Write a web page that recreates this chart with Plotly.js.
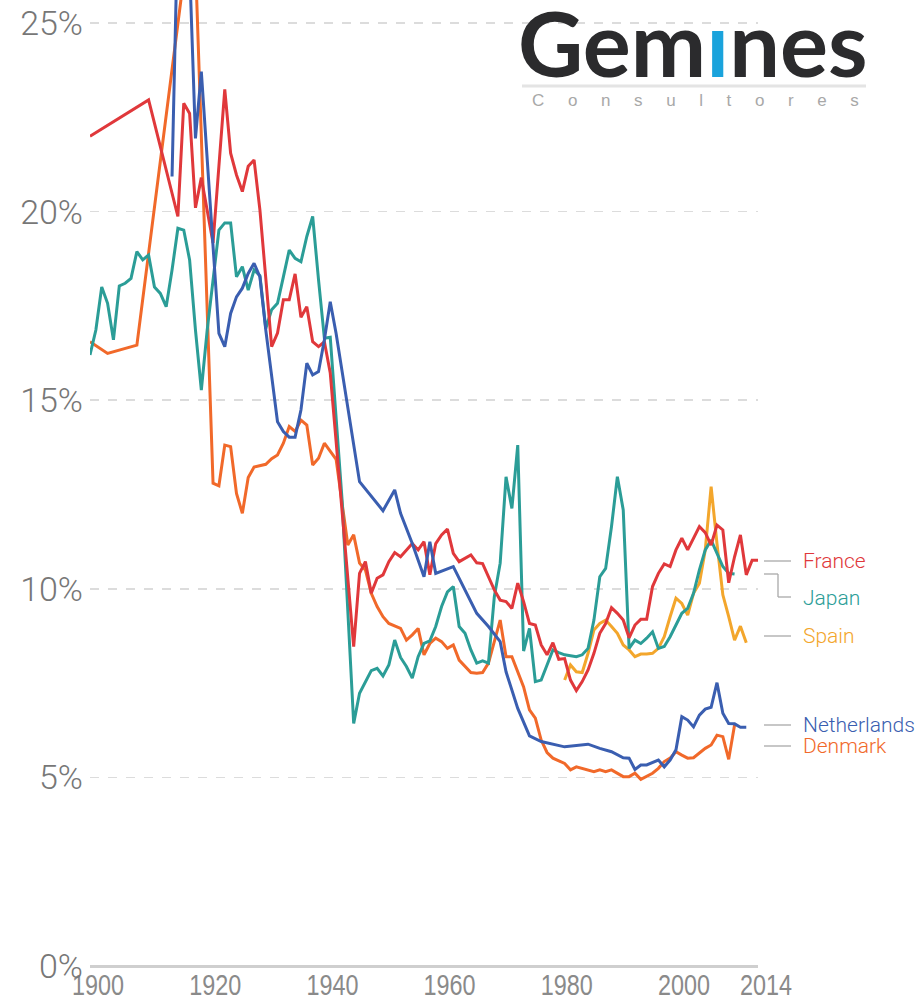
<!DOCTYPE html>
<html><head><meta charset="utf-8">
<script src="https://cdn.plot.ly/plotly-3.0.1.min.js"></script>
<style>html,body{margin:0;padding:0;background:#fff}</style>
</head><body><div id="chart" style="width:924px;height:1003px"></div>
<script>
// ---- data (share, %) ----
const franceYears = [1900,1910,1915,1916,1917,1918,1919,1921,1923,1924,1925,1926,1927,1928,1929,1931,1932,1933,1934,1935,1936,1937,1938,1939,1940,1941,1945,1946,1947,1948,1949,1950,1951,1952,1953,1955,1956,1957,1958,1959,1960,1961,1962,1963,1965,1966,1967,1968,1969,1970,1971,1972,1973,1974,1975,1976,1977,1978,1979,1980,1981,1982,1983,1984,1985,1986,1987,1988,1989,1990,1991,1992,1993,1994,1995,1996,1997,1998,1999,2000,2001,2002,2003,2004,2005,2006,2007,2008,2009,2010,2011,2012,2013,2014];
const franceValues = [22.0,22.96,19.87,22.87,22.6,20.1,20.9,19.17,23.24,21.55,20.97,20.53,21.2,21.37,20.04,16.42,16.78,17.66,17.66,18.35,17.2,17.48,16.55,16.42,16.55,15.72,8.47,10.41,10.72,9.88,10.28,10.37,10.72,10.96,10.85,11.2,11.03,11.25,10.37,11.2,11.43,11.58,10.94,10.72,10.9,10.69,10.67,10.32,9.97,9.7,9.66,9.48,10.15,9.66,9.08,9.04,8.51,8.25,8.57,8.13,8.15,7.58,7.30,7.54,7.85,8.29,8.82,9.08,9.5,9.35,9.17,8.7,9.04,9.19,9.19,10.06,10.41,10.66,10.59,11.03,11.34,11.03,11.34,11.65,11.49,11.16,11.69,11.56,10.16,10.85,11.43,10.37,10.76,10.76];

const japanYears = [1900,1901,1902,1903,1904,1905,1906,1907,1908,1909,1910,1911,1912,1913,1914,1915,1916,1917,1918,1919,1920,1921,1922,1923,1924,1925,1926,1927,1928,1929,1930,1931,1932,1933,1934,1935,1936,1937,1938,1939,1940,1941,1943,1945,1946,1948,1949,1950,1951,1952,1953,1954,1955,1956,1957,1958,1959,1960,1961,1962,1963,1964,1965,1966,1967,1968,1969,1970,1971,1972,1973,1974,1975,1976,1977,1978,1979,1980,1981,1983,1984,1985,1986,1987,1988,1989,1990,1991,1992,1993,1994,1995,1996,1997,1998,1999,2000,2001,2002,2003,2004,2005,2006,2007,2008,2009,2010];
const japanValues = [16.2,16.86,18.0,17.57,16.6,18.03,18.1,18.23,18.94,18.72,18.85,18.0,17.83,17.48,18.45,19.56,19.51,18.72,16.86,15.27,16.86,18.27,19.51,19.7,19.7,18.27,18.54,17.92,18.45,18.3,16.9,17.4,17.57,18.27,18.98,18.76,18.67,19.34,19.87,18.19,16.64,16.67,12.4,6.43,7.23,7.83,7.89,7.69,7.98,8.64,8.18,7.94,7.63,8.2,8.55,8.62,9.0,9.53,9.92,10.06,9.0,8.82,8.38,8.03,8.09,8.03,9.79,10.68,12.97,12.13,13.81,8.35,8.95,7.54,7.58,7.98,8.38,8.31,8.25,8.2,8.25,8.42,9.17,10.32,10.54,11.65,12.97,12.09,8.42,8.64,8.55,8.69,8.86,8.42,8.47,8.73,9.04,9.35,9.48,9.88,10.5,11.03,11.29,10.94,10.59,10.41,10.39];

const spainYears = [1981,1982,1983,1984,1985,1986,1987,1988,1989,1990,1991,1992,1993,1994,1995,1996,1997,1998,1999,2000,2001,2002,2003,2004,2005,2006,2007,2008,2009,2010,2011,2012];
const spainValues = [7.58,7.98,7.80,7.78,8.29,8.91,9.08,9.17,9.0,8.82,8.51,8.38,8.2,8.27,8.27,8.29,8.42,8.73,9.26,9.75,9.61,9.3,9.88,10.15,11.03,12.71,11.2,9.84,9.26,8.64,9.01,8.57];

const netherlandsYears = [1914,1915,1916,1917,1918,1919,1922,1923,1924,1925,1926,1927,1928,1929,1930,1931,1932,1933,1934,1935,1936,1937,1938,1939,1940,1941,1942,1946,1950,1952,1953,1955,1957,1958,1959,1962,1966,1968,1970,1971,1973,1975,1977,1981,1985,1987,1989,1991,1992,1993,1994,1995,1997,1998,1999,2000,2001,2002,2003,2004,2005,2006,2007,2008,2009,2010,2011,2012];
const netherlandsValues = [20.93,27.8,28.5,26.5,21.94,23.71,16.77,16.42,17.3,17.74,17.97,18.36,18.63,18.27,16.86,15.62,14.43,14.17,14.02,14.02,14.74,15.98,15.67,15.76,16.6,17.61,16.77,12.84,12.07,12.62,12.0,11.2,10.32,11.25,10.41,10.59,9.35,9.0,8.6,7.8,6.83,6.1,5.95,5.81,5.88,5.77,5.68,5.52,5.51,5.21,5.33,5.33,5.46,5.28,5.46,5.73,6.61,6.52,6.34,6.65,6.81,6.86,7.51,6.7,6.43,6.42,6.33,6.33];

const denmarkYears = [1900,1903,1908,1916,1917,1918,1921,1922,1923,1924,1925,1926,1927,1928,1930,1931,1932,1933,1934,1935,1936,1937,1938,1939,1940,1941,1942,1944,1945,1946,1947,1948,1949,1950,1951,1953,1954,1955,1956,1957,1958,1959,1960,1961,1962,1963,1964,1965,1966,1967,1968,1969,1970,1971,1972,1974,1975,1976,1977,1978,1979,1981,1982,1983,1984,1986,1987,1988,1989,1990,1991,1992,1993,1994,1995,1996,1997,1998,1999,2000,2001,2002,2003,2004,2005,2006,2007,2008,2009,2010];
const denmarkValues = [16.55,16.24,16.46,26.2,28.5,26.6,12.8,12.73,13.81,13.77,12.53,12.0,12.95,13.23,13.3,13.45,13.55,13.86,14.3,14.17,14.47,14.34,13.28,13.46,13.86,13.65,13.43,11.16,11.43,10.68,10.5,9.88,9.53,9.26,9.08,8.95,8.64,8.78,8.95,8.25,8.55,8.69,8.6,8.42,8.51,8.11,7.94,7.78,7.76,7.78,8.03,8.6,9.17,8.2,8.2,7.4,6.79,6.57,5.99,5.66,5.51,5.37,5.2,5.28,5.24,5.15,5.2,5.15,5.2,5.11,5.02,5.02,5.11,4.95,5.02,5.11,5.24,5.42,5.51,5.68,5.59,5.51,5.52,5.64,5.77,5.86,6.12,6.08,5.48,6.39];

const countryNames = ["Denmark","Spain","Japan","France","Netherlands"];
const xTickVals = [1900,1920,1940,1960,1980,2000,2014];
const xTickText = ["1900","1920","1940","1960","1980","2000","2014"];
const yTickVals = [0,5,10,15,20,25];
const yTickText = ["0%","5%","10%","15%","20%","25%"];
const logoSub = "Consultores";

// ---- styles ----
const colors = {France:"#e0383b", Japan:"#2b9d97", Spain:"#f3a62c", Netherlands:"#3a5eb0", Denmark:"#f1692a"};
const seriesData = {
  France:[franceYears,franceValues], Japan:[japanYears,japanValues], Spain:[spainYears,spainValues],
  Netherlands:[netherlandsYears,netherlandsValues], Denmark:[denmarkYears,denmarkValues]
};
const traces = countryNames.map(n => ({
  type:"scatter", mode:"lines", name:n, x:seriesData[n][0], y:seriesData[n][1],
  line:{color:colors[n], width:3}, hoverinfo:"x+y+name"
}));

// pixel helpers (plot area: x 90..758, y 0..966)
const L=90, R=758, T=0, B=966;
const px = v => (v-L)/(R-L);
const py = v => (B-v)/(B-T);

const labelFont = {family:"Roboto, 'Liberation Sans', sans-serif", size:21, weight:300};
const labels = [
  {t:"France", y:561, c:colors.France},
  {t:"Japan", y:598, c:colors.Japan},
  {t:"Spain", y:636, c:colors.Spain},
  {t:"Netherlands", y:725, c:colors.Netherlands},
  {t:"Denmark", y:746, c:colors.Denmark}
];
const annotations = labels.map(l => ({
  xref:"paper", yref:"paper", x:px(801), y:py(l.y), xanchor:"left", yanchor:"middle",
  text:l.t, showarrow:false, font:Object.assign({}, labelFont, {color:l.c})
}));
// logo
annotations.push({xref:"paper", yref:"paper", x:px(693), y:py(42), xanchor:"center", yanchor:"middle",
  text:'Gem<span style="color:#1aa3dc">ı</span>nes', showarrow:false,
  font:{family:"Lato, 'Open Sans', sans-serif", size:90, color:"#2b2b2d", weight:700}});
annotations.push({xref:"paper", yref:"paper", x:px(695), y:py(101), xanchor:"center", yanchor:"middle",
  text:logoSub.split("").join("\u00a0\u00a0\u00a0\u00a0\u00a0"), showarrow:false,
  font:{family:"'Liberation Sans', sans-serif", size:17, color:"#a8a8a8"}});

const lineStyle = {color:"#a9a9a9", width:1.3};
const seg = (x0,x1,y0,y1,ls) => ({type:"line", xref:"paper", yref:"paper", x0:px(x0), x1:px(x1), y0:py(y0), y1:py(y1), line:ls||lineStyle});
const shapes = [
  seg(764,791,561,561), seg(764,791,636,636), seg(764,791,725,725), seg(764,791,746,746),
  seg(764,778,574,574), seg(778,778,574,597), seg(778,791,597,597),
  seg(522,866,86,86,{color:"#e4e4e4", width:3})
];

const layout = {
  width:924, height:1003,
  margin:{l:L, r:924-R, t:T, b:1003-B},
  paper_bgcolor:"#fff", plot_bgcolor:"#fff",
  showlegend:false,
  xaxis:{range:[1900,2014], tickvals:xTickVals, ticktext:xTickText, showgrid:false, zeroline:false,
    showline:false, ticks:"", ticklabelshift:8, ticklabelstandoff:-2,
    tickfont:{family:"'Liberation Sans', sans-serif", size:30, color:"#8a8a8a"}},
  yaxis:{range:[0,966/37.72], tickvals:yTickVals, ticktext:yTickText, showgrid:true, gridcolor:"#dcdcdc",
    griddash:"dash", gridwidth:1.5, zeroline:true, zerolinecolor:"#cfcfcf", zerolinewidth:3,
    showline:false, ticks:"", ticklabelstandoff:6,
    tickfont:{family:"Roboto, 'Liberation Sans', sans-serif", size:34, color:"#777", weight:300}},
  annotations:annotations, shapes:shapes
};
Plotly.newPlot("chart", traces, layout, {displayModeBar:false, staticPlot:true}).then(() => {
  // condensed look of the year labels
  document.querySelectorAll("#chart .xtick text").forEach(t => {
    const b = t.getBBox();
    const cx = b.x + b.width/2;
    const prev = t.getAttribute("transform") || "";
    t.setAttribute("transform", prev + " translate(" + cx + ",0) scale(0.78,1) translate(" + (-cx) + ",0)");
  });
});
</script></body></html>
